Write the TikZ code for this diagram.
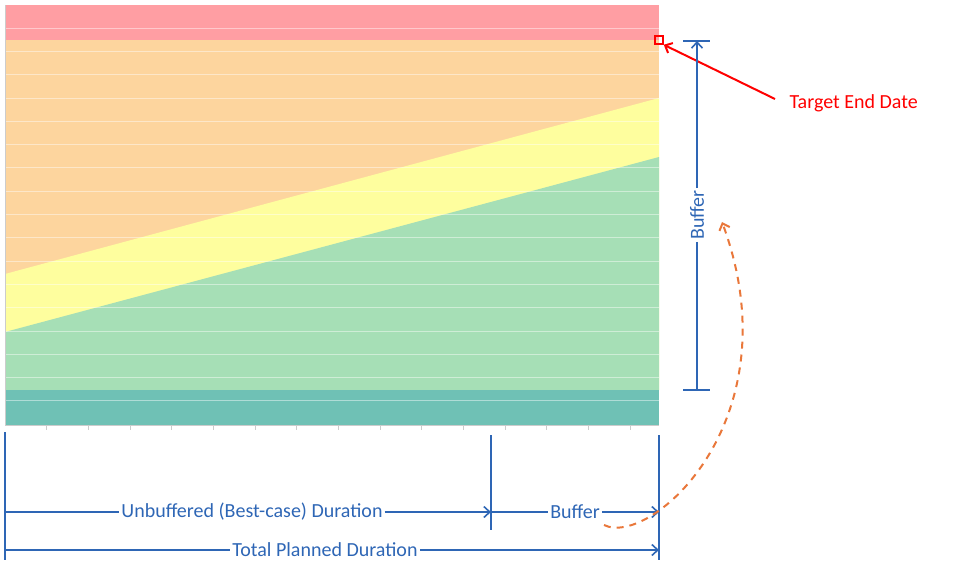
\documentclass[tikz,border=0pt]{standalone}
\usepackage{fontspec}
\setmainfont{Carlito}
\usetikzlibrary{arrows.meta}
\definecolor{cred}{HTML}{FF9EA3}
\definecolor{corange}{HTML}{FDD59E}
\definecolor{cyellow}{HTML}{FEFE9E}
\definecolor{cgreen}{HTML}{A6DFB6}
\definecolor{cteal}{HTML}{6FC1B5}
\definecolor{dimblue}{HTML}{2E66B5}
\definecolor{dashor}{HTML}{E9773A}
\tikzset{
  dim/.style={draw=dimblue, line width=1.6pt},
  dimarrow/.style={dim, -{Straight Barb[length=6pt,width=11pt,line width=1.6pt]}},
  lbl/.style={text=dimblue, font=\fontsize{20}{22}\selectfont, inner sep=2pt},
}
\begin{document}
\begin{tikzpicture}[x=1pt,y=-1pt]
\useasboundingbox (0,0) rectangle (960,578);
% bands
\fill[cred] (5,5) rectangle (659,40);
\fill[corange] (5,40) rectangle (659,390);
\fill[cyellow] (5,274) -- (659,98) -- (659,390) -- (5,390) -- cycle;
\fill[cgreen] (5,332) -- (659,157) -- (659,390) -- (5,390) -- cycle;
\fill[cteal] (5,390) rectangle (659,425);
\foreach \y in {28,51.3,74.6,97.9,121.2,144.5,167.8,191.1,214.4,237.7,261,284.3,307.6,330.9,354.2,377.5,400.8}
  \draw[white, opacity=0.45, line width=0.8pt] (5,\y) -- (659,\y);
\draw[gray!40, line width=0.8pt] (5,5) -- (5,425) -- (659,425);
\foreach \x in {46,88,130,171,213,255,296,338,380,421,463,505,546,588,630}
  \draw[gray!40, line width=0.8pt] (\x,425) -- (\x,430);
% target
\node[draw=red, line width=1.5pt, minimum size=8pt, inner sep=0pt] (sq) at (659,40) {};
\node[text=red, font=\fontsize{20}{22}\selectfont, anchor=west] (tgt) at (786,103) {Target End Date};
\coordinate (tgtstart) at (775,99);
\draw[red, line width=2pt, -{Straight Barb[length=6pt,width=11pt,line width=2pt]}] (tgtstart) -- (sq.south east);
% buffer vertical
\coordinate (bt) at (697,41);
\coordinate (bb) at (697,390);
\draw[dim] (683,41) -- (710,41);
\draw[dim] (683,390) -- (710,390);
\node[lbl, rotate=90] (bufv) at (697,215) {Buffer};
\draw[dimarrow] (bufv.east) -- (bt);
\draw[dim] (bufv.west) -- (bb);
% bottom verticals
\coordinate (l0) at (5,432); \coordinate (l1) at (5,560);
\coordinate (m0) at (491,435); \coordinate (m1) at (491,530);
\coordinate (r0) at (659,435); \coordinate (r1) at (659,560);
\draw[dim] (l0) -- (l1);
\draw[dim] (m0) -- (m1);
\draw[dim] (r0) -- (r1);
% row 1
\node[lbl] (unb) at (252,512) {Unbuffered (Best-case) Duration};
\coordinate (a1) at (5,512); \coordinate (a2) at (491,512); \coordinate (a3) at (659,512);
\draw[dim] (a1) -- (unb.west);
\draw[dimarrow] (unb.east) -- (a2);
\node[lbl] (bufh) at (575,512) {Buffer};
\draw[dim] (a2) -- (bufh.west);
\draw[dimarrow] (bufh.east) -- (a3);
% row 2
\node[lbl] (tot) at (325,550) {Total Planned Duration};
\coordinate (b1) at (5,550); \coordinate (b2) at (659,550);
\draw[dim] (b1) -- (tot.west);
\draw[dimarrow] (tot.east) -- (b2);
% dashed curve
\coordinate (cs) at (604,525);
\coordinate (ce) at (722,222);
\draw[dashor, line width=2pt, dash pattern=on 7pt off 6pt, -{Straight Barb[length=6pt,width=11pt,line width=2pt]}]
  (cs) .. controls (650,548) and (795,420) .. (ce);
\end{tikzpicture}
\end{document}
